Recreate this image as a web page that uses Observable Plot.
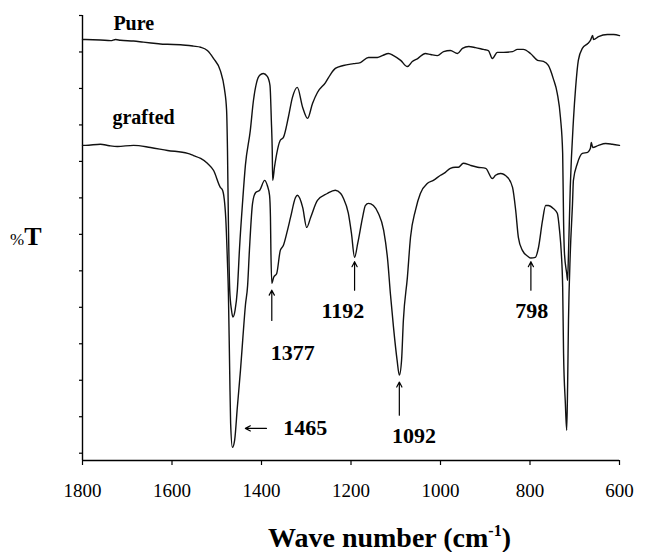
<!DOCTYPE html>
<html>
<head>
<meta charset="utf-8">
<script src="https://cdn.jsdelivr.net/npm/d3@7"></script>
<script src="https://cdn.jsdelivr.net/npm/@observablehq/plot@0.6"></script>
<style>
  html, body { margin: 0; padding: 0; background: #fff; }
  #chart { width: 647px; height: 552px; }
</style>
</head>
<body>
<div id="chart"></div>
<script>
// IR spectra (transmittance, arbitrary %T units) of the pure and the grafted polymer.
// Each row is [wave number in cm^-1, %T].
const seriesNames = ["Pure", "grafted"];

const pure = [
  [1800, 11.34], [1793, 11.34], [1760, 11.33], [1737, 11.31], [1726, 11.34], [1715, 11.32],
  [1686, 11.30], [1664, 11.27], [1641, 11.24], [1626, 11.22], [1610, 11.21], [1581, 11.20],
  [1552, 11.16], [1536, 11.13], [1521, 11.04], [1507, 10.82], [1492, 10.49], [1483, 10.00],
  [1478, 9.40], [1476, 8.30], [1474, 6.38], [1471, 4.47], [1467, 3.92], [1464, 3.73],
  [1459, 3.92], [1454, 4.47], [1449, 5.64], [1442, 6.93], [1436, 7.89], [1425, 8.85],
  [1418, 9.67], [1411, 10.16], [1404, 10.36], [1396, 10.41], [1387, 10.33], [1381, 10.08],
  [1378, 9.12], [1376, 8.30], [1375, 7.48], [1371, 7.84], [1358, 8.58], [1351, 8.66],
  [1340, 9.21], [1331, 9.75], [1320, 10.03], [1308, 9.48], [1297, 9.18], [1286, 9.59],
  [1275, 9.89], [1257, 10.16], [1246, 10.38], [1235, 10.55], [1217, 10.63], [1194, 10.68],
  [1179, 10.71], [1161, 10.85], [1141, 10.85], [1130, 10.90], [1116, 10.96], [1105, 10.90],
  [1089, 10.77], [1074, 10.60], [1063, 10.74], [1051, 10.82], [1034, 10.96], [1022, 10.93],
  [1007, 10.90], [993, 11.01], [978, 11.04], [962, 10.96], [951, 11.10], [937, 11.15],
  [922, 11.12], [904, 11.07], [893, 11.04], [884, 10.82], [873, 10.99], [859, 10.99],
  [839, 11.01], [828, 11.07], [815, 11.07], [799, 10.96], [783, 10.77], [770, 10.74],
  [759, 10.63], [748, 10.27], [739, 9.86], [732, 9.21], [727, 8.22], [725, 6.38],
  [723, 5.48], [718, 4.93], [716, 4.74], [714, 5.48], [710, 7.29], [703, 9.12],
  [698, 10.03], [692, 10.77], [683, 11.10], [671, 11.23], [665, 11.32], [660, 11.45],
  [658, 11.34], [647, 11.42], [627, 11.48], [613, 11.48], [600, 11.45]
];

const grafted = [
  [1800, 8.44], [1793, 8.44], [1760, 8.47], [1740, 8.43], [1722, 8.41], [1686, 8.44],
  [1648, 8.38], [1610, 8.30], [1565, 8.22], [1552, 8.16], [1536, 8.08], [1521, 7.95],
  [1507, 7.75], [1492, 7.29], [1487, 7.21], [1480, 6.47], [1476, 5.21], [1474, 4.41],
  [1471, 2.19], [1469, 0.82], [1465, 0.16], [1460, 0.36], [1454, 1.26], [1447, 2.27],
  [1442, 3.10], [1436, 4.05], [1431, 4.60], [1427, 5.56], [1420, 6.85], [1413, 7.15],
  [1404, 7.21], [1393, 7.48], [1387, 7.34], [1382, 7.07], [1380, 6.47], [1379, 5.56],
  [1377, 4.66], [1373, 4.82], [1366, 4.93], [1358, 5.56], [1351, 5.70], [1342, 6.11],
  [1335, 6.47], [1324, 7.01], [1320, 7.07], [1308, 6.74], [1299, 6.19], [1290, 6.47],
  [1275, 6.93], [1253, 7.12], [1235, 7.21], [1223, 7.12], [1217, 6.99], [1206, 6.58],
  [1199, 6.03], [1192, 5.37], [1185, 5.75], [1174, 6.47], [1168, 6.79], [1161, 6.85],
  [1150, 6.79], [1139, 6.58], [1127, 6.11], [1118, 5.29], [1112, 4.38], [1105, 3.45],
  [1097, 2.55], [1092, 2.14], [1087, 2.55], [1083, 3.64], [1074, 4.82], [1067, 5.92],
  [1056, 6.66], [1045, 7.12], [1029, 7.40], [1016, 7.48], [1000, 7.62], [989, 7.70],
  [978, 7.81], [967, 7.84], [960, 7.84], [949, 7.95], [933, 7.89], [917, 7.84],
  [899, 7.81], [884, 7.53], [877, 7.62], [866, 7.67], [850, 7.56], [839, 7.29],
  [832, 6.66], [826, 5.92], [817, 5.56], [805, 5.40], [798, 5.35], [788, 5.37],
  [781, 5.64], [772, 6.38], [765, 6.79], [759, 6.79], [748, 6.71], [739, 6.58],
  [734, 6.11], [730, 5.48], [727, 4.55], [725, 2.74], [721, 1.37], [718, 0.63],
  [716, 1.81], [714, 3.64], [710, 5.48], [705, 6.85], [703, 7.48], [694, 7.95],
  [683, 8.22], [671, 8.25], [665, 8.36], [663, 8.52], [660, 8.38], [647, 8.44],
  [631, 8.49], [616, 8.47], [600, 8.44]
];

// Marked absorption bands of the grafted sample (cm^-1)
const bands = [1465, 1377, 1192, 1092, 798];

const xTicks = [1800, 1600, 1400, 1200, 1000, 800, 600];
const yTicks = [0, 1, 2, 3, 4, 5, 6, 7, 8, 9, 10, 11, 12];

// Where each band's arrow and number sit (data units): arrow tail (x1, y1),
// arrow head (x2, y2) and the centre of the number (tx, ty).
const layout = {
  1465: {x1: 1389, x2: 1436, y1: 0.68, y2: 0.68, tx: 1302, ty: 0.68},
  1377: {x1: 1377, x2: 1377, y1: 3.64, y2: 4.47, tx: 1330, ty: 2.74},
  1192: {x1: 1192, x2: 1192, y1: 4.47, y2: 5.25, tx: 1218, ty: 3.89},
  1092: {x1: 1092, x2: 1092, y1: 1.04, y2: 1.95, tx: 1059, ty: 0.47},
  798:  {x1: 798,  x2: 798,  y1: 4.47, y2: 5.25, tx: 796,  ty: 3.89}
};
const notes = bands.map(b => ({band: b, ...layout[b]}));

const serif = "Liberation Serif, Times New Roman, Times, serif";

const chart = Plot.plot({
  width: 647,
  height: 552,
  marginLeft: 82,
  marginRight: 28,
  marginTop: 15,
  marginBottom: 92,
  x: {domain: [1800, 600]},
  y: {domain: [-0.2, 12]},
  style: {fontFamily: serif, background: "#fff", color: "#000", overflow: "visible"},
  marks: [
    Plot.axisY(yTicks, {tickSize: 3, tickFormat: () => "", label: null, strokeWidth: 1.2}),
    Plot.axisX(xTicks, {tickSize: 5, tickPadding: 18, fontSize: 19, fontFamily: serif, tickFormat: "d", label: null, strokeWidth: 1.2}),
    Plot.ruleX([1800], {y1: -0.2, y2: 12, strokeWidth: 1.4}),
    Plot.ruleY([-0.2], {x1: 1800, x2: 600, strokeWidth: 1.4}),
    Plot.line(pure, {x: d => d[0], y: d => d[1], curve: "monotone-x", stroke: "#111", strokeWidth: 1.4}),
    Plot.line(grafted, {x: d => d[0], y: d => d[1], curve: "monotone-x", stroke: "#111", strokeWidth: 1.4}),
    Plot.text([
      {name: seriesNames[0], x: 1731, y: 11.79},
      {name: seriesNames[1], x: 1733, y: 9.19}
    ], {x: "x", y: "y", text: "name", textAnchor: "start", fontSize: 20, fontFamily: serif, fontWeight: "bold", fill: "#000"}),
    Plot.arrow(notes, {x1: "x1", y1: "y1", x2: "x2", y2: "y2", headLength: 7, headAngle: 55, stroke: "#000", strokeWidth: 1.2}),
    Plot.text(notes, {x: "tx", y: "ty", text: d => String(d.band), textAnchor: "middle", fontSize: 22, fontFamily: serif, fontWeight: "bold", fill: "#000"})
  ]
});

// Axis titles with mixed sizes and a superscript
const svg = d3.select(chart);
const yt = svg.append("text")
  .attr("x", 10).attr("y", 245).attr("text-anchor", "start")
  .attr("font-family", serif).attr("fill", "#000");
yt.append("tspan").attr("font-size", 17).text("%");
yt.append("tspan").attr("font-size", 26).attr("font-weight", "bold").text("T");

const xt = svg.append("text")
  .attr("x", 268).attr("y", 547).attr("text-anchor", "start")
  .attr("font-family", serif).attr("font-weight", "bold").attr("font-size", 28).attr("fill", "#000");
xt.append("tspan").text("Wave number (cm");
xt.append("tspan").attr("font-size", 16).attr("dy", -11).text("-1");
xt.append("tspan").attr("dy", 11).text(")");

document.getElementById("chart").append(chart);
</script>
</body>
</html>
